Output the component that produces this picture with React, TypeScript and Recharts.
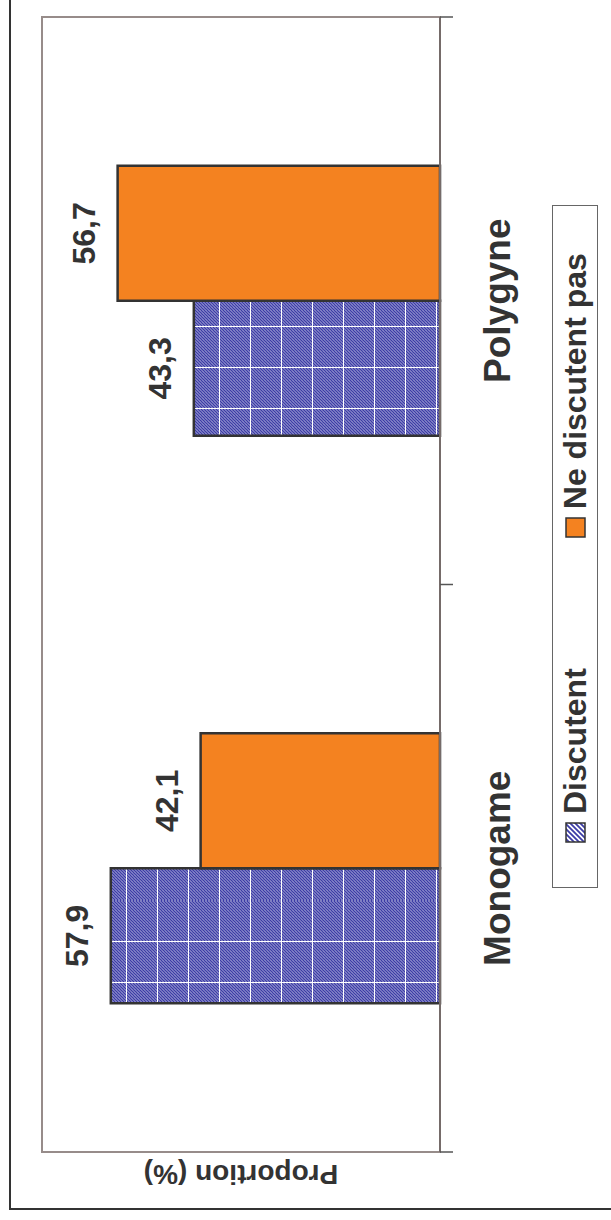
import React from "react";
import { BarChart, Bar, XAxis, YAxis, Legend, LabelList, ReferenceArea } from "recharts";

// Share of couples who discuss (or not), by type of union
const categories = ["Monogame", "Polygyne"];
const seriesNames = ["Discutent", "Ne discutent pas"];
const discutent = [57.9, 43.3];
const neDiscutentPas = [42.1, 56.7];
const valueMax = 70;
const axisTitle = "Proportion (%)";

const data = categories.map((c, i) => ({
  category: c,
  discutent: discutent[i],
  neDiscutentPas: neDiscutentPas[i],
}));

// the chart is laid out upright, then the whole block is turned a quarter left
const W = 1220;
const H = 611;
const margin = { top: 42, right: 17, bottom: 71, left: 22 };
const Y_W = 46;
const X_H = 100;
const PLOT_W = W - margin.left - Y_W - margin.right;
const HALF_BAND = PLOT_W / categories.length / 2;

const FONT = '"Liberation Sans", Arial, Helvetica, sans-serif';
const INK = "#333333";
const ORANGE = "#f48220";
const HATCH_BLUE = "#3c3ca6";
const FRAME = "#978c8a";

const fmt = (v: any) => Number(v).toFixed(1).replace(".", ",");

function CategoryTick(props: any) {
  const { x, y, payload, index } = props;
  const last = index === categories.length - 1;
  return (
    <g>
      <line x1={x - HALF_BAND} y1={y} x2={x - HALF_BAND} y2={y + 13} stroke="#555" strokeWidth={1.5} />
      {last && <line x1={x + HALF_BAND} y1={y} x2={x + HALF_BAND} y2={y + 13} stroke="#555" strokeWidth={1.5} />}
      <text
        x={x}
        y={y + 70}
        textAnchor="middle"
        fontSize={37}
        fontWeight="bold"
        fill={INK}
        fontFamily={FONT}
      >
        {payload.value}
      </text>
    </g>
  );
}

function LegendBox(props: any) {
  const items = props.payload ?? [];
  return (
    <div
      style={{
        width: 683,
        height: 46,
        boxSizing: "border-box",
        border: "1.5px solid #666",
        background: "#fff",
        display: "flex",
        alignItems: "center",
        paddingLeft: 44,
        fontFamily: FONT,
        fontWeight: "bold",
        fontSize: 32,
        color: INK,
      }}
    >
      {items.map((entry: any, i: number) => (
        <div key={entry.value} style={{ display: "flex", alignItems: "center", marginRight: i === 0 ? 130 : 0 }}>
          <svg width={21} height={21} style={{ marginRight: 8 }}>
            <rect
              x={1}
              y={1}
              width={19}
              height={19}
              fill={entry.color === "url(#hatch)" ? "url(#legendHatch)" : entry.color}
              stroke={INK}
              strokeWidth={1.5}
            />
          </svg>
          <span style={{ lineHeight: 1 }}>{entry.value}</span>
        </div>
      ))}
    </div>
  );
}

export default function App() {
  return (
    <div
      style={{
        position: "absolute",
        left: 0,
        top: 0,
        width: W,
        height: H,
        background: "#fff",
        transformOrigin: "0 0",
        transform: `translateY(${W}px) rotate(-90deg)`,
      }}
    >
      <div
        style={{
          position: "absolute",
          left: 10,
          top: 9,
          width: W - 10,
          height: H - 9,
          boxSizing: "border-box",
          borderLeft: "2px solid #333",
          borderTop: "2px solid #333",
        }}
      />
      <BarChart
        width={W}
        height={H}
        data={data}
        margin={margin}
        barCategoryGap="26.2%"
        barGap={0}
      >
        <defs>
          <pattern id="stripes" width={3} height={3} patternUnits="userSpaceOnUse">
            <rect width={3} height={3} fill="#fff" />
            <path d="M-1,1 L1,-1 M0,3 L3,0 M2,4 L4,2" stroke={HATCH_BLUE} strokeWidth={1.6} />
          </pattern>
          <pattern id="hatch" x={32} y={2} width={41} height={31} patternUnits="userSpaceOnUse">
            <rect width={41} height={31} fill="url(#stripes)" />
            <path d="M0.5,0 V31 M0,0.5 H41" stroke="#fff" strokeWidth={1} />
          </pattern>
          <pattern id="legendHatch" width={5} height={5} patternUnits="userSpaceOnUse">
            <rect width={5} height={5} fill="#fff" />
            <path d="M-1,1 L1,-1 M0,5 L5,0 M4,6 L6,4" stroke={HATCH_BLUE} strokeWidth={1.8} />
          </pattern>
        </defs>
        <ReferenceArea y1={0} y2={valueMax} fill="none" stroke={FRAME} strokeWidth={2} ifOverflow="visible" />
        <XAxis
          dataKey="category"
          height={X_H}
          interval={0}
          tickSize={0}
          tickMargin={0}
          tickLine={false}
          axisLine={{ stroke: "#756b69", strokeWidth: 2 }}
          tick={(p: any) => <CategoryTick {...p} />}
        />
        <YAxis
          width={Y_W}
          domain={[0, valueMax]}
          tick={false}
          tickLine={false}
          axisLine={false}
          label={{
            value: axisTitle,
            angle: -90,
            position: "center",
            fontSize: 28,
            fontWeight: "bold",
            fill: INK,
            fontFamily: FONT,
          }}
        />
        <Legend
          layout="vertical"
          align="center"
          verticalAlign="middle"
          wrapperStyle={{ position: "absolute", left: 332, top: 552, width: 683, height: 46 }}
          content={(p: any) => <LegendBox {...p} />}
        />
        <Bar
          dataKey="discutent"
          name={seriesNames[0]}
          fill="url(#hatch)"
          stroke={INK}
          strokeWidth={2.5}
          isAnimationActive={false}
        >
          <LabelList
            dataKey="discutent"
            position="top"
            offset={23}
            formatter={fmt}
            fontSize={32}
            fontWeight="bold"
            fill={INK}
            stroke="none"
            fontFamily={FONT}
          />
        </Bar>
        <Bar
          dataKey="neDiscutentPas"
          name={seriesNames[1]}
          fill={ORANGE}
          stroke={INK}
          strokeWidth={2.5}
          isAnimationActive={false}
        >
          <LabelList
            dataKey="neDiscutentPas"
            position="top"
            offset={23}
            formatter={fmt}
            fontSize={32}
            fontWeight="bold"
            fill={INK}
            stroke="none"
            fontFamily={FONT}
          />
        </Bar>
      </BarChart>
    </div>
  );
}
